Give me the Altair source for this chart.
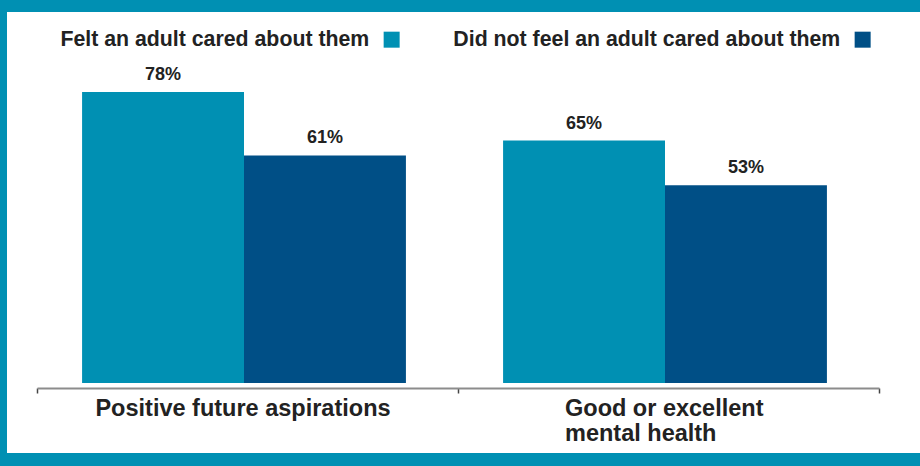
import altair as alt
import pandas as pd

categories = ["Positive future aspirations", "Good or excellent mental health"]
groups = ["Felt an adult cared about them", "Did not feel an adult cared about them"]
felt_values = [78, 65]
not_felt_values = [61, 53]
colors = ["#0090B3", "#004F86"]

rows = []
for i, c in enumerate(categories):
    rows.append({"category": c, "group": groups[0], "value": felt_values[i]})
    rows.append({"category": c, "group": groups[1], "value": not_felt_values[i]})
df = pd.DataFrame(rows)
df["label"] = df["value"].astype(str) + "%"

FONT = "Liberation Sans, Arial, Helvetica, sans-serif"
second = categories[1]

x_enc = alt.X(
    "category:N",
    sort=categories,
    title=None,
    scale=alt.Scale(paddingInner=0, paddingOuter=0),
    axis=alt.Axis(
        zindex=1,
        labelAngle=0,
        domainColor="#8c8c8c",
        domainWidth=2,
        tickColor="#444444",
        tickWidth=1.5,
        tickSize=5,
        tickBand="extent",
        offset=5,
        labelFont=FONT,
        labelFontSize=23.5,
        labelFontWeight="bold",
        labelColor="#222222",
        labelPadding=3,
        labelLimit=0,
        labelLineHeight=25,
        labelBaseline="top",
        labelExpr=f"datum.value == '{second}' ? ['Good or excellent', 'mental health'] : datum.label",
        labelAlign={"condition": {"test": f"datum.value == '{second}'", "value": "left"}, "value": "center"},
        labelOffset={"condition": {"test": f"datum.value == '{second}'", "value": -104}, "value": -5},
    ),
)
xoff = alt.XOffset("group:N", sort=groups,
                   scale=alt.Scale(paddingInner=0, paddingOuter=0.3, align=0.464))

base = alt.Chart(df).encode(x=x_enc, xOffset=xoff)

bars = base.mark_bar().encode(
    y=alt.Y("value:Q", scale=alt.Scale(domain=[0, 100]), axis=None),
    color=alt.Color(
        "group:N",
        sort=groups,
        scale=alt.Scale(domain=groups, range=colors),
        legend=alt.Legend(
            title=None,
            orient="none",
            legendX=344,
            legendY=19,
            direction="horizontal",
            symbolType="square",
            symbolSize=256,
            symbolStrokeWidth=0,
            symbolOpacity=1,
            labelFont=FONT,
            labelFontSize=21.3,
            labelFontWeight="bold",
            labelColor="#222222",
            labelLimit=0,
            labelAlign="right",
            labelOffset={"expr": "-33"},
            columnPadding=53,
            padding=0,
            zindex=1,
        ),
    ),
)

texts = base.mark_text(
    dy=-8, baseline="bottom", fontSize=18, fontWeight="bold", font=FONT, color="#222222"
).encode(y=alt.Y("value:Q"), text="label:N")

bg = alt.Chart(pd.DataFrame({"a": [0]})).mark_rect(color="white").encode(
    x=alt.value(-30), x2=alt.value(883), y=alt.value(2), y2=alt.value(443)
)

chart = alt.layer(bg, bars, texts).properties(
    width=842,
    height=373,
    autosize=alt.AutoSizeParams(type="none"),
    padding={"left": 37, "top": 10, "right": 41, "bottom": 83},
    background="#0090B3",
).configure_view(stroke=None)

chart.save("out.html", embed_options={"renderer": "svg", "actions": False})
